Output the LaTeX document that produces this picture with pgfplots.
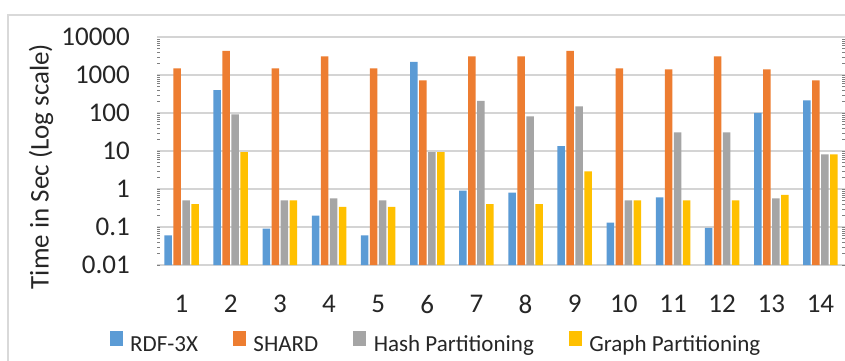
\documentclass[border=0pt]{standalone}
\usepackage{fontspec}
\setmainfont{Carlito}
\usepackage{pgfplots}
\pgfplotsset{compat=1.18}

\definecolor{rdfblue}{HTML}{5B9BD5}
\definecolor{shardorange}{HTML}{ED7D31}
\definecolor{hashgray}{HTML}{A5A5A5}
\definecolor{graphgold}{HTML}{FFC000}
\definecolor{gridgray}{HTML}{D4D4D4}
\definecolor{framegray}{HTML}{D9D9D9}
\definecolor{labeltext}{HTML}{262626}

\begin{document}
\begin{tikzpicture}
\useasboundingbox (0,0) rectangle (845bp,361bp);
\fill[white] (0,0) rectangle (845bp,361bp);
% chart frame
\draw[line width=1.4bp, framegray] (8bp,0bp) -- (8bp,346bp) -- (845bp,346bp);
\begin{axis}[
  at={(157bp,96bp)}, anchor=south west,
  width=688bp, height=228bp, scale only axis,
  ymode=log, log origin=infty,
  ymin=0.01, ymax=10000,
  xmin=0.5, xmax=14.5,
  ybar=1.5bp, bar width=7.5bp,
  axis line style={draw=none},
  major tick length=0pt,
  ymajorgrids, major grid style={line width=1.8bp, gridgray},
  xtick={1,...,14},
  xticklabels={1,2,3,4,5,6,7,8,9,10,11,12,13,14},
  ytick={0.01,0.1,1,10,100,1000,10000},
  yticklabels={0.01,0.1,1,10,100,1000,10000},
  /pgf/number format/assume math mode=true,
  tick label style={font=\fontsize{27bp}{30bp}\selectfont, text=labeltext, inner sep=0pt},
  xticklabel style={anchor=north, yshift=-30bp},
  yticklabel style={anchor=east, xshift=-27bp},
  ylabel={Time in Sec (Log scale)},
  every axis y label/.style={at={(axis description cs:-0.1686,0.432)}, rotate=90, anchor=center,
    font=\fontsize{27bp}{30bp}\selectfont, text=labeltext},
  legend columns=4,
  legend style={at={(axis description cs:0.404,-0.338)}, anchor=center,
    draw=none, fill=none, font=\fontsize{23bp}{26bp}\selectfont, text=labeltext,
    nodes={inner sep=0pt},
    /tikz/every odd column/.style={column sep=7.5bp},
    /tikz/every even column/.style={column sep=35bp}},
  legend image code/.code={\fill[#1] (0bp,-1bp) rectangle (13bp,14bp);},
]
% RDF-3X
\addplot[fill=rdfblue, draw=none] coordinates {
  (1,0.06) (2,400) (3,0.09) (4,0.2) (5,0.06) (6,2200) (7,0.9)
  (8,0.8) (9,13.5) (10,0.13) (11,0.6) (12,0.095) (13,100) (14,215)};
% SHARD
\addplot[fill=shardorange, draw=none] coordinates {
  (1,1500) (2,4300) (3,1500) (4,3100) (5,1500) (6,720) (7,3100)
  (8,3100) (9,4300) (10,1500) (11,1400) (12,3100) (13,1400) (14,720)};
% Hash Partitioning
\addplot[fill=hashgray, draw=none] coordinates {
  (1,0.5) (2,92) (3,0.5) (4,0.57) (5,0.5) (6,9.3) (7,210)
  (8,82) (9,150) (10,0.5) (11,31) (12,31) (13,0.57) (14,8.2)};
% Graph Partitioning
\addplot[fill=graphgold, draw=none] coordinates {
  (1,0.4) (2,9.3) (3,0.5) (4,0.34) (5,0.34) (6,9.3) (7,0.4)
  (8,0.4) (9,2.9) (10,0.5) (11,0.5) (12,0.5) (13,0.7) (14,8.2)};
\legend{RDF-3X, SHARD, Hash Partitioning, Graph Partitioning}
\end{axis}
\end{tikzpicture}
\end{document}
